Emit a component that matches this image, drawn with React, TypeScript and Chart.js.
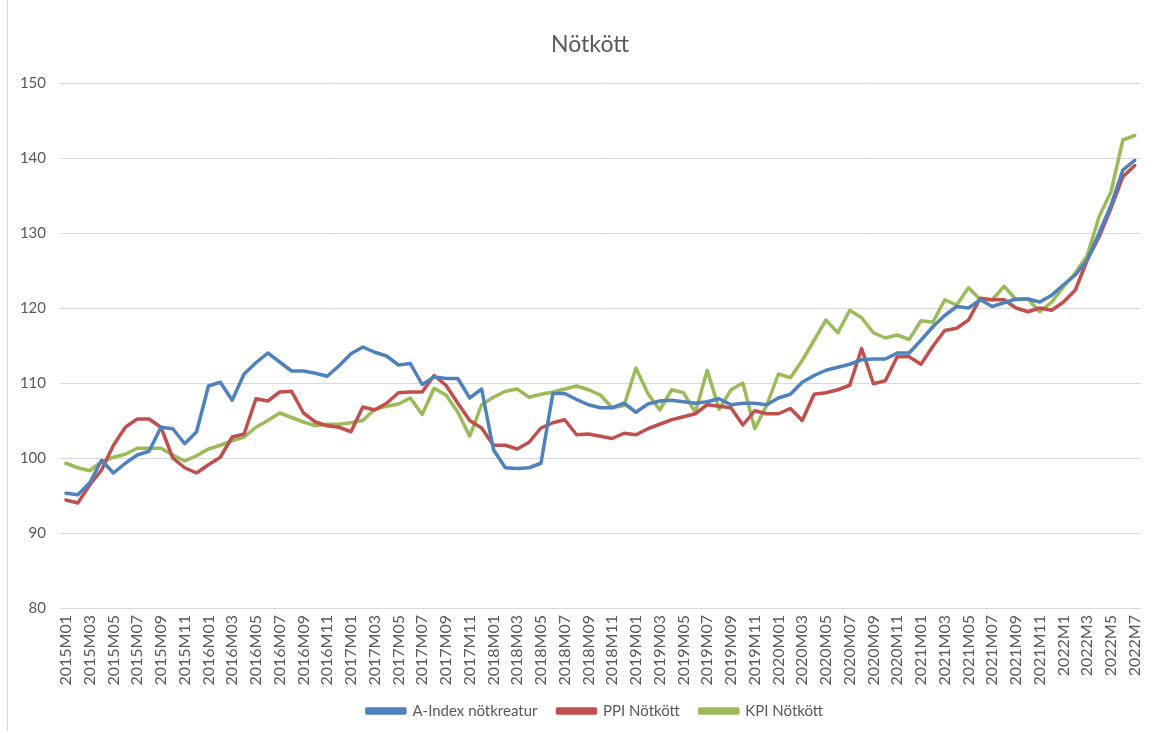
import React, { useEffect, useRef } from "react";
import { Chart, registerables } from "chart.js";

Chart.register(...registerables);

const title = "Nötkött";

const months: string[] = [
  "2015M01","2015M02","2015M03","2015M04","2015M05","2015M06","2015M07","2015M08","2015M09","2015M10","2015M11","2015M12",
  "2016M01","2016M02","2016M03","2016M04","2016M05","2016M06","2016M07","2016M08","2016M09","2016M10","2016M11","2016M12",
  "2017M01","2017M02","2017M03","2017M04","2017M05","2017M06","2017M07","2017M08","2017M09","2017M10","2017M11","2017M12",
  "2018M01","2018M02","2018M03","2018M04","2018M05","2018M06","2018M07","2018M08","2018M09","2018M10","2018M11","2018M12",
  "2019M01","2019M02","2019M03","2019M04","2019M05","2019M06","2019M07","2019M08","2019M09","2019M10","2019M11","2019M12",
  "2020M01","2020M02","2020M03","2020M04","2020M05","2020M06","2020M07","2020M08","2020M09","2020M10","2020M11","2020M12",
  "2021M01","2021M02","2021M03","2021M04","2021M05","2021M06","2021M07","2021M08","2021M09","2021M10","2021M11","2021M12",
  "2022M1","2022M2","2022M3","2022M4","2022M5","2022M6","2022M7",
];

const aIndex: number[] = [
  95.3, 95.1, 96.7, 99.7, 98.0, 99.3, 100.4, 100.9, 104.1, 103.9, 101.9, 103.5,
  109.6, 110.1, 107.7, 111.2, 112.7, 114.0, 112.8, 111.6, 111.6, 111.3, 110.9, 112.3,
  113.9, 114.8, 114.1, 113.6, 112.4, 112.6, 109.8, 110.8, 110.6, 110.6, 108.0, 109.2,
  101.1, 98.7, 98.6, 98.7, 99.3, 108.6, 108.6, 107.8, 107.1, 106.7, 106.7, 107.3,
  106.1, 107.2, 107.6, 107.7, 107.5, 107.3, 107.5, 107.9, 107.1, 107.3, 107.3, 107.1,
  108.0, 108.5, 110.1, 111.0, 111.7, 112.1, 112.5, 113.1, 113.2, 113.2, 114.0, 114.0,
  115.7, 117.5, 119.0, 120.2, 120.0, 121.1, 120.2, 120.7, 121.2, 121.2, 120.8, 121.7,
  123.1, 124.4, 126.4, 130.0, 133.7, 138.4, 139.7,
];

const ppi: number[] = [
  94.4, 94.0, 96.4, 98.4, 101.7, 104.1, 105.2, 105.2, 104.1, 100.0, 98.7, 98.0,
  99.1, 100.1, 102.8, 103.2, 107.9, 107.6, 108.8, 108.9, 106.0, 104.8, 104.3, 104.1,
  103.5, 106.8, 106.4, 107.3, 108.7, 108.8, 108.8, 111.0, 109.7, 107.3, 105.0, 104.0,
  101.7, 101.7, 101.2, 102.1, 104.0, 104.7, 105.1, 103.1, 103.2, 102.9, 102.6, 103.3,
  103.1, 103.9, 104.5, 105.1, 105.5, 105.9, 107.1, 106.9, 106.7, 104.4, 106.3, 105.9,
  105.9, 106.6, 105.0, 108.5, 108.7, 109.1, 109.7, 114.6, 109.9, 110.3, 113.5, 113.5,
  112.5, 114.9, 117.0, 117.3, 118.4, 121.3, 121.1, 121.1, 120.0, 119.5, 120.0, 119.7,
  120.8, 122.4, 126.4, 129.5, 133.3, 137.5, 139.0,
];

const kpi: number[] = [
  99.3, 98.7, 98.3, 99.5, 100.1, 100.5, 101.3, 101.3, 101.3, 100.4, 99.6, 100.3,
  101.2, 101.7, 102.3, 102.8, 104.1, 105.0, 106.0, 105.4, 104.8, 104.3, 104.5, 104.5,
  104.7, 105.0, 106.5, 106.9, 107.2, 108.0, 105.8, 109.3, 108.4, 106.1, 102.9, 107.1,
  108.1, 108.9, 109.2, 108.1, 108.5, 108.8, 109.2, 109.6, 109.1, 108.4, 106.7, 107.0,
  112.0, 108.6, 106.4, 109.1, 108.7, 106.1, 111.7, 106.5, 109.1, 110.0, 103.9, 107.0,
  111.2, 110.7, 113.0, 115.7, 118.4, 116.7, 119.7, 118.7, 116.7, 116.0, 116.4, 115.8,
  118.3, 118.1, 121.1, 120.4, 122.7, 121.1, 121.1, 122.9, 121.1, 121.2, 119.5, 120.8,
  122.8, 124.7, 127.0, 132.2, 135.5, 142.4, 143.0,
];

const seriesNames = ["A-Index nötkreatur", "PPI Nötkött", "KPI Nötkött"];
const seriesColors = ["#4F81BD", "#C0504D", "#9BBB59"];
const yTicks = { min: 80, max: 150, step: 10 };

const FONT = "Lato, 'Liberation Sans', sans-serif";
const TEXT = "#595959";

const shiftBoxes = {
  id: "shiftBoxes",
  afterLayout(chart: any) {
    const l = chart.legend;
    if (l) {
      l.left += 19;
      l.right += 19;
      l.top -= 2.5;
      l.bottom -= 2.5;
    }
    const t = chart.titleBlock;
    if (t) {
      t.left += 14;
      t.right += 14;
    }
  },
};

export default function App() {
  const ref = useRef<HTMLCanvasElement | null>(null);

  useEffect(() => {
    if (!ref.current) return;
    const series = [aIndex, ppi, kpi];
    const chart = new Chart(ref.current, {
      type: "line",
      data: {
        labels: months,
        datasets: series.map((d, i) => ({
          label: seriesNames[i],
          data: d,
          borderColor: seriesColors[i],
          backgroundColor: seriesColors[i],
          borderWidth: 3.5,
          pointRadius: 0,
          pointHoverRadius: 0,
          tension: 0,
          borderJoinStyle: "round" as const,
          borderCapStyle: "round" as const,
        })),
      },
      plugins: [shiftBoxes],
      options: {
        animation: false,
        responsive: false,
        maintainAspectRatio: false,
        layout: { padding: { top: 0, right: 9, bottom: 0, left: 0 } },
        plugins: {
          title: {
            display: true,
            text: title,
            color: TEXT,
            font: { family: FONT, size: 23, weight: "normal" },
            padding: { top: 31, bottom: 24.4 },
          },
          legend: {
            position: "bottom",
            labels: {
              color: TEXT,
              font: { family: FONT, size: 15 },
              boxWidth: 38,
              boxHeight: 4,
              padding: 20,
            },
          },
          tooltip: { enabled: false },
        },
        scales: {
          x: {
            offset: true,
            grid: { display: false, drawTicks: false },
            border: { display: false },
            ticks: {
              autoSkip: false,
              minRotation: 90,
              maxRotation: 90,
              padding: 7,
              color: TEXT,
              font: { family: FONT, size: 16 },
              callback: (_v: any, idx: number) => (idx % 2 === 0 ? months[idx] : ""),
            },
            afterFit: (s: any) => {
              s.height = 78;
            },
          },
          y: {
            min: yTicks.min,
            max: yTicks.max,
            grid: { color: "#D9D9D9", lineWidth: 1, drawTicks: false },
            border: { display: false },
            ticks: {
              stepSize: yTicks.step,
              padding: 14,
              color: TEXT,
              font: { family: FONT, size: 15 },
            },
            afterFit: (s: any) => {
              s.width = 60;
            },
          },
        },
      },
    });
    return () => chart.destroy();
  }, []);

  return (
    <div style={{ position: "absolute", left: 0, top: 0, width: 1161, height: 731, background: "#fff" }}>
      <canvas ref={ref} width={1161} height={731} style={{ display: "block" }} />
      <div
        style={{
          position: "absolute",
          left: 7,
          top: 0,
          width: 0,
          height: 731,
          borderLeft: "1px solid #D9D9D9",
          pointerEvents: "none",
        }}
      />
    </div>
  );
}
